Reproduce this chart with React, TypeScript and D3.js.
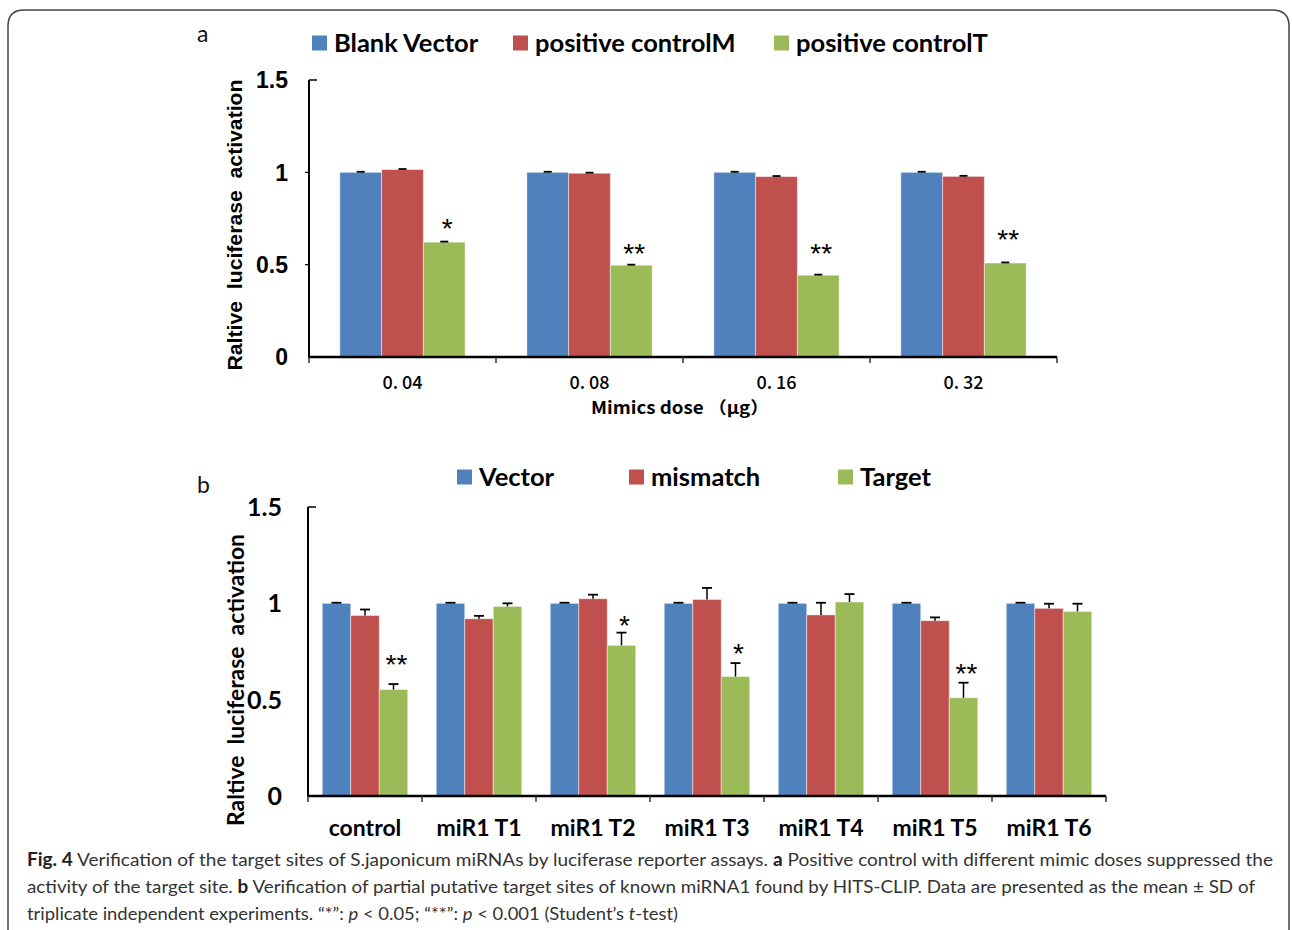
import React from 'react';
import * as d3 from 'd3';

// panel a: mimic dose experiment
const doses = ['0. 04', '0. 08', '0. 16', '0. 32'];
const blankVector = [1.0, 1.0, 1.0, 1.0];
const blankVectorErr = [0.003, 0.003, 0.003, 0.003];
const posControlM = [1.015, 0.995, 0.977, 0.978];
const posControlMErr = [0.003, 0.003, 0.003, 0.003];
const posControlT = [0.622, 0.497, 0.443, 0.509];
const posControlTErr = [0.003, 0.003, 0.003, 0.003];
const starsA = ['*', '**', '**', '**'];
const starLevelA = [0.73, 0.595, 0.595, 0.67];

// panel b: target sites
const sites = ['control', 'miR1 T1', 'miR1 T2', 'miR1 T3', 'miR1 T4', 'miR1 T5', 'miR1 T6'];
const vector = [1.0, 1.0, 1.0, 1.0, 1.0, 1.0, 1.0];
const vectorErr = [0.003, 0.003, 0.003, 0.003, 0.003, 0.003, 0.003];
const mismatch = [0.937, 0.92, 1.024, 1.02, 0.94, 0.91, 0.974];
const mismatchErr = [0.031, 0.015, 0.021, 0.06, 0.063, 0.017, 0.024];
const target = [0.553, 0.984, 0.782, 0.62, 1.007, 0.51, 0.958];
const targetErr = [0.028, 0.016, 0.066, 0.07, 0.041, 0.078, 0.04];
const starsB = ['**', '', '*', '*', '', '**', ''];
const starLevelB = [0.716, 0, 0.918, 0.773, 0, 0.67, 0];

const yTicks = [0, 0.5, 1, 1.5];
const yTickLabels = ['0', '0.5', '1', '1.5'];

const BLUE = '#4F81BD';
const RED = '#C0504D';
const GREEN = '#9BBB59';

type Series = { name: string; color: string; values: number[]; errors: number[] };

type PanelProps = {
  categories: string[];
  series: Series[];
  stars: string[];
  starLevels: number[];
  left: number;
  right: number;
  top: number;
  bottom: number;
  pad: number;
  capW: number;
  catFont: React.CSSProperties;
  catY: number;
  tickFont: React.CSSProperties;
  tickX: number;
  starSize: number;
  leftTicks: boolean;
};

const Panel = (p: PanelProps) => {
  const x = d3
    .scaleBand<string>()
    .domain(p.categories)
    .range([p.left, p.right])
    .paddingInner(p.pad)
    .paddingOuter(p.pad / 2);
  const sub = d3
    .scaleBand<string>()
    .domain(p.series.map(s => s.name))
    .range([0, x.bandwidth()]);
  const y = d3.scaleLinear().domain([0, 1.5]).range([p.bottom, p.top]);
  const step = x.step();
  const bounds = d3.range(p.categories.length + 1).map(i => p.left + i * step);

  return (
    <g>
      {p.series.map(s =>
        p.categories.map((c, i) => {
          const bx = (x(c) as number) + (sub(s.name) as number);
          const v = s.values[i];
          const e = s.errors[i];
          const cx = bx + sub.bandwidth() / 2;
          return (
            <g key={s.name + c}>
              <rect
                x={bx}
                y={y(v)}
                width={sub.bandwidth()}
                height={y(0) - y(v)}
                fill={s.color}
                stroke="rgba(255,255,255,0.45)"
                strokeWidth={1}
              />
              <line x1={cx} x2={cx} y1={y(v)} y2={y(v + e)} stroke="#000" strokeWidth={1.5} />
              <line
                x1={cx - p.capW / 2}
                x2={cx + p.capW / 2}
                y1={y(v + e)}
                y2={y(v + e)}
                stroke="#000"
                strokeWidth={1.8}
              />
            </g>
          );
        })
      )}
      {p.categories.map((c, i) =>
        p.stars[i] ? (
          <text
            key={'star' + c}
            x={(x(c) as number) + (sub(p.series[2].name) as number) + sub.bandwidth() / 2 + 3}
            y={y(p.starLevels[i]) + p.starSize * 0.57}
            textAnchor="middle"
            fontFamily="'Liberation Sans', Arial, sans-serif"
            fontSize={p.starSize}
          >
            {p.stars[i]}
          </text>
        ) : null
      )}
      {/* axes */}
      <line x1={p.left} x2={p.left} y1={p.top} y2={p.bottom + 1} stroke="#000" strokeWidth={2} />
      <line x1={p.left} x2={p.left + 8} y1={p.top} y2={p.top} stroke="#000" strokeWidth={1.5} />
      {p.leftTicks &&
        yTicks.slice(1, 3).map(t => (
          <line key={'yt' + t} x1={p.left - 4} x2={p.left} y1={y(t)} y2={y(t)} stroke="#000" strokeWidth={1.2} />
        ))}
      <line x1={p.left - 1} x2={p.right} y1={p.bottom} y2={p.bottom} stroke="#000" strokeWidth={2.5} />
      {bounds.map((b, i) => (
        <line key={'xt' + i} x1={b} x2={b} y1={p.bottom} y2={p.bottom + 6} stroke="#333" strokeWidth={1.5} />
      ))}
      {yTicks.map((t, i) => (
        <text
          key={'yl' + t}
          x={p.tickX}
          y={y(t)}
          dy="0.36em"
          textAnchor="end"
          style={p.tickFont}
        >
          {yTickLabels[i]}
        </text>
      ))}
      {p.categories.map(c => (
        <text
          key={'xl' + c}
          x={(x(c) as number) + x.bandwidth() / 2}
          y={p.catY}
          textAnchor="middle"
          style={p.catFont}
        >
          {c}
        </text>
      ))}
    </g>
  );
};

const Legend = ({ items, xs, y, size, font }: { items: Series[]; xs: number[]; y: number; size: number; font: React.CSSProperties }) => (
  <g>
    {items.map((s, i) => (
      <g key={s.name}>
        <rect x={xs[i]} y={y - size / 2} width={size} height={size} fill={s.color} />
        <text x={xs[i] + size + 7} y={y} dy="0.35em" style={font}>
          {s.name}
        </text>
      </g>
    ))}
  </g>
);

const calibri: React.CSSProperties = { fontFamily: 'Lato, sans-serif', fontWeight: 700 };
const arial: React.CSSProperties = { fontFamily: "'Liberation Sans', Arial, sans-serif", fontWeight: 700 };

export default function App() {
  const seriesA: Series[] = [
    { name: 'Blank Vector', color: BLUE, values: blankVector, errors: blankVectorErr },
    { name: 'positive controlM', color: RED, values: posControlM, errors: posControlMErr },
    { name: 'positive controlT', color: GREEN, values: posControlT, errors: posControlTErr },
  ];
  const seriesB: Series[] = [
    { name: 'Vector', color: BLUE, values: vector, errors: vectorErr },
    { name: 'mismatch', color: RED, values: mismatch, errors: mismatchErr },
    { name: 'Target', color: GREEN, values: target, errors: targetErr },
  ];

  const captionFont = "Lato, 'Open Sans', sans-serif";

  return (
    <svg
      width={1292}
      height={930}
      style={{ position: 'absolute', left: 0, top: 0, background: '#fff' }}
    >
      {/* frame */}
      <path
        d="M8,930 L8,26 Q8,10 24,10 L1272,10 Q1289,10 1289,26 L1289,930"
        fill="none"
        stroke="#444"
        strokeWidth={1.5}
      />

      {/* panel a */}
      <text x={197} y={42} fontFamily={captionFont} fontSize={23} fill="#111">a</text>
      <Legend items={seriesA} xs={[312, 513, 774]} y={43} size={15} font={{ ...calibri, fontSize: 25.5 }} />
      <Panel
        categories={doses}
        series={seriesA}
        stars={starsA}
        starLevels={starLevelA}
        left={309}
        right={1057}
        top={80}
        bottom={357}
        pad={0.33}
        capW={8}
        catFont={{ fontFamily: "'Noto Sans CJK SC', sans-serif", fontSize: 18, fontWeight: 500 }}
        catY={389}
        tickFont={{ ...arial, fontSize: 23 }}
        tickX={288}
        starSize={28}
        leftTicks={true}
      />
      <text
        x={680}
        y={414}
        textAnchor="middle"
        fontFamily="'Noto Sans CJK SC', sans-serif"
        fontWeight={700}
        fontSize={17}
        textLength={178}
        lengthAdjust="spacingAndGlyphs"
      >
        Mimics dose （μg）
      </text>
      <text
        transform="translate(242,225) rotate(-90)"
        textAnchor="middle"
        style={{ ...arial, fontSize: 20, whiteSpace: 'pre' }}
        textLength={291}
        lengthAdjust="spacingAndGlyphs"
      >
        {'Raltive  luciferase  activation'}
      </text>

      {/* panel b */}
      <text x={197} y={493} fontFamily={captionFont} fontSize={23} fill="#111">b</text>
      <Legend items={seriesB} xs={[457, 629, 838]} y={477} size={15} font={{ ...calibri, fontSize: 25.5 }} />
      <Panel
        categories={sites}
        series={seriesB}
        stars={starsB}
        starLevels={starLevelB}
        left={308}
        right={1106}
        top={507}
        bottom={796}
        pad={0.25}
        capW={10}
        catFont={{ ...calibri, fontSize: 23 }}
        catY={836}
        tickFont={{ ...calibri, fontSize: 25 }}
        tickX={282}
        starSize={28}
        leftTicks={false}
      />
      <text
        transform="translate(244,680) rotate(-90)"
        textAnchor="middle"
        style={{ ...calibri, fontSize: 22, whiteSpace: 'pre' }}
        textLength={292}
        lengthAdjust="spacingAndGlyphs"
      >
        {'Raltive  luciferase  activation'}
      </text>

      {/* caption */}
      <g fontFamily={captionFont} fontSize={18} fill="#333">
        <text x={27} y={866} textLength={1246} lengthAdjust="spacingAndGlyphs">
          <tspan fontWeight={700} fill="#222">Fig. 4</tspan> Verification of the target sites of S.japonicum miRNAs by luciferase reporter assays.{' '}
          <tspan fontWeight={700} fill="#222">a</tspan> Positive control with different mimic doses suppressed the
        </text>
        <text x={27} y={893} textLength={1228} lengthAdjust="spacingAndGlyphs">
          activity of the target site. <tspan fontWeight={700} fill="#222">b</tspan> Verification of partial putative target sites of known miRNA1 found by HITS-CLIP. Data are presented as the mean ± SD of
        </text>
        <text x={27} y={920} textLength={651} lengthAdjust="spacingAndGlyphs">
          triplicate independent experiments. “*”: <tspan fontStyle="italic">p</tspan> &lt; 0.05; “**”: <tspan fontStyle="italic">p</tspan> &lt; 0.001 (Student’s <tspan fontStyle="italic">t</tspan>-test)
        </text>
      </g>
    </svg>
  );
}
